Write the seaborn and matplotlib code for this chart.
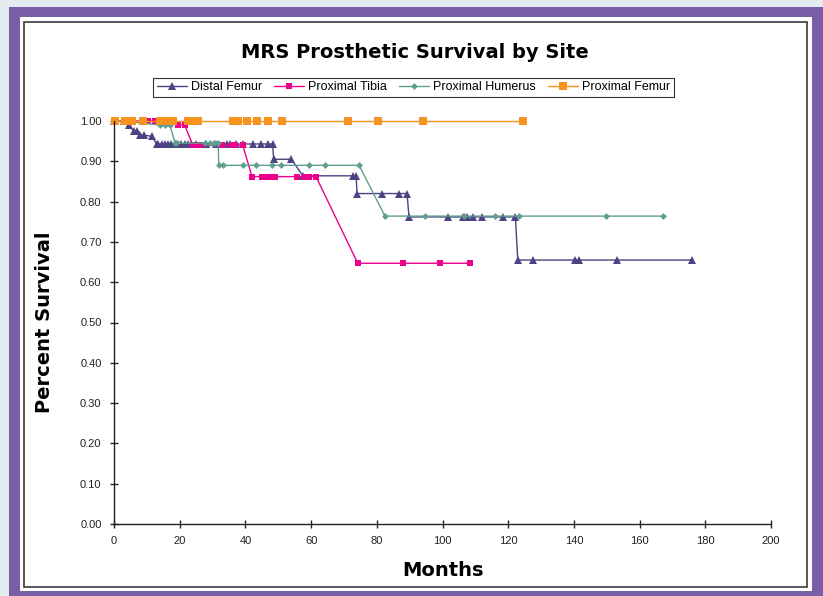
import matplotlib
matplotlib.use("Agg")
import matplotlib.pyplot as plt
from matplotlib.patches import Rectangle
import seaborn as sns
import pandas as pd

# ---- data (months, survival) ----
distal_femur_x = [0, 3, 4.5, 6, 7, 8, 9, 11.5, 13, 13.5, 14.5, 15.5, 16.5, 17.5, 18.5, 19.5,
                  20.5, 21.5, 22.5, 23.5, 25, 28, 31, 34.4, 35.3, 37.1, 39.3, 42.3, 44.7, 46.9,
                  48.3, 48.6, 54, 57.5, 72.7, 73.7, 74, 81.6, 86.8, 89.2, 89.8, 101.7, 106.2,
                  107.6, 109.2, 111.9, 118.5, 122.2, 122.9, 127.5, 140.3, 141.6, 153, 176.1]
distal_femur_y = [1.0, 1.0, 0.99, 0.975, 0.975, 0.965, 0.965, 0.962, 0.943, 0.943, 0.943, 0.943,
                  0.943, 0.943, 0.943, 0.943, 0.943, 0.943, 0.943, 0.943, 0.943, 0.943, 0.943,
                  0.943, 0.943, 0.943, 0.943, 0.943, 0.943, 0.943, 0.943, 0.905, 0.905, 0.864,
                  0.864, 0.864, 0.82, 0.82, 0.82, 0.82, 0.762, 0.762, 0.762, 0.762, 0.762, 0.762,
                  0.762, 0.762, 0.655, 0.655, 0.655, 0.655, 0.655, 0.655]

proximal_tibia_x = [0, 3, 10.5, 12.5, 19.5, 21.5, 24, 25, 26.2, 32.9, 35.9, 36.8, 39.2, 42, 45,
                    46.9, 48, 49, 55.7, 58.1, 59.4, 61.5, 74.2, 88, 99.2, 108.4]
proximal_tibia_y = [1.0, 1.0, 1.0, 1.0, 0.99, 0.99, 0.94, 0.94, 0.94, 0.94, 0.94, 0.94, 0.94,
                    0.862, 0.862, 0.862, 0.862, 0.862, 0.862, 0.862, 0.862, 0.862, 0.647, 0.647,
                    0.647, 0.647]

proximal_humerus_x = [0, 2.4, 14, 15.5, 17, 18.6, 19, 27.7, 29.2, 30.5, 31.7, 31.9, 33.2, 39.3,
                      43.2, 48.1, 50.8, 59.4, 64.2, 74.6, 82.5, 94.7, 106.5, 116, 123.4, 149.8,
                      167.2]
proximal_humerus_y = [1.0, 1.0, 0.99, 0.99, 0.99, 0.945, 0.945, 0.945, 0.945, 0.945, 0.945,
                      0.89, 0.89, 0.89, 0.89, 0.89, 0.89, 0.89, 0.89, 0.89, 0.764, 0.764, 0.764,
                      0.764, 0.764, 0.764, 0.764]

proximal_femur_x = [0.3, 3.3, 5.4, 8.8, 14, 15.5, 17, 18, 22.5, 24, 25.6, 36.2, 37.7, 40.5,
                    43.5, 46.9, 51.1, 71.1, 80.4, 94.1, 124.4]
proximal_femur_y = [1.0] * len(proximal_femur_x)

series_names = ["Distal Femur", "Proximal Tibia", "Proximal Humerus", "Proximal Femur"]
x_ticks = [0, 20, 40, 60, 80, 100, 120, 140, 160, 180, 200]
y_ticks = [0.0, 0.1, 0.2, 0.3, 0.4, 0.5, 0.6, 0.7, 0.8, 0.9, 1.0]

# ---- styles ----
colors = {"Distal Femur": "#4d4283", "Proximal Tibia": "#ec008c",
          "Proximal Humerus": "#5e9f91", "Proximal Femur": "#f7931e"}
markers = {"Distal Femur": "^", "Proximal Tibia": "s",
           "Proximal Humerus": "D", "Proximal Femur": "s"}
msizes = {"Distal Femur": 5.8, "Proximal Tibia": 4.5,
          "Proximal Humerus": 3.5, "Proximal Femur": 5.5}

frames = []
for name, xs, ys in zip(series_names,
                        [distal_femur_x, proximal_tibia_x, proximal_humerus_x, proximal_femur_x],
                        [distal_femur_y, proximal_tibia_y, proximal_humerus_y, proximal_femur_y]):
    frames.append(pd.DataFrame({"Months": xs, "Survival": ys, "Site": name}))
df = pd.concat(frames, ignore_index=True)

sns.set_style("white")
plt.rcParams["font.family"] = ["DejaVu Sans"]

fig = plt.figure(figsize=(8.23, 5.96), dpi=100)
fig.patch.set_facecolor("#e5ebf3")
W, H = 823, 596


def frect(x0, y0, x1, y1, **kw):
    fig.patches.append(Rectangle((x0 / W, 1 - y1 / H), (x1 - x0) / W, (y1 - y0) / H,
                                 transform=fig.transFigure, figure=fig, **kw))


frect(9, 7, 823, 596, facecolor="#7a5ea8", edgecolor="none", zorder=-3)
frect(20, 17, 812, 591, facecolor="white", edgecolor="none", zorder=-2)
frect(24, 22, 807, 587, facecolor="none", edgecolor="#3a3a3a", linewidth=1.2, zorder=-1)

ax = fig.add_axes([114 / W, 1 - 524 / H, (771 - 114) / W, (524 - 121) / H])
ax.set_facecolor("none")
ax.set_zorder(2)

for name in series_names:
    sub = df[df["Site"] == name]
    sns.lineplot(data=sub, x="Months", y="Survival", ax=ax, color=colors[name],
                 marker=markers[name], markersize=msizes[name], markeredgewidth=0,
                 linewidth=1.0, sort=False, estimator=None, label=name, clip_on=False)

ax.set_xlim(0, 200)
ax.set_ylim(0, 1.0)
ax.set_xticks(x_ticks)
ax.set_yticks(y_ticks)
ax.set_xticklabels([str(t) for t in x_ticks], family="Liberation Sans", fontsize=8)
ax.set_yticklabels([f"{t:.2f}" for t in y_ticks], family="Liberation Sans", fontsize=8)
ax.tick_params(axis="both", direction="inout", length=6, width=1, color="#222222",
               labelcolor="#222222", left=True, bottom=True)
ax.tick_params(axis="x", pad=6)
ax.tick_params(axis="y", pad=6)
for s in ["top", "right"]:
    ax.spines[s].set_visible(False)
for s in ["left", "bottom"]:
    ax.spines[s].set_color("#222222")
    ax.spines[s].set_linewidth(1)
ax.grid(False)

ax.set_xlabel("Months", fontsize=14, fontweight="bold", color="black")
ax.set_ylabel("Percent Survival", fontsize=14, fontweight="bold", color="black")
ax.xaxis.set_label_coords(0.5, -(570 - 524) / 403)
ax.xaxis.label.set_va("center")
ax.yaxis.set_label_coords((44 - 114) / 657, 0.5)
ax.yaxis.label.set_va("center")

fig.text(415 / W, 1 - 53 / H, "MRS Prosthetic Survival by Site", ha="center", va="center",
         fontsize=14, fontweight="bold", color="black")

if ax.legend_:
    ax.legend_.remove()
handles, labels = ax.get_legend_handles_labels()
leg = fig.legend(handles, labels, loc="center", bbox_to_anchor=(413.5 / W, 1 - 87.5 / H),
                 ncol=4, frameon=True, fancybox=False, handlelength=2.4,
                 handletextpad=0.3, columnspacing=1.0, borderpad=0.3,
                 prop={"family": "Liberation Sans", "size": 9})
leg.get_frame().set_edgecolor("black")
leg.get_frame().set_linewidth(0.8)
for t in leg.get_texts():
    t.set_color("black")

fig.savefig("out.png", dpi=100, facecolor=fig.get_facecolor())
